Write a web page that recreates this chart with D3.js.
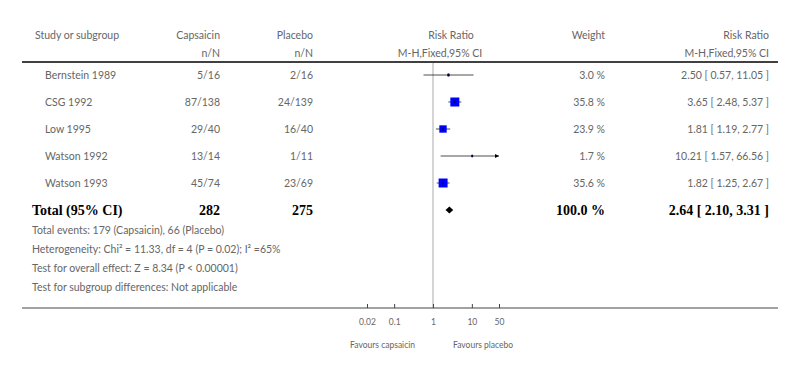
<!DOCTYPE html>
<html>
<head>
<meta charset="utf-8">
<script src="https://cdn.jsdelivr.net/npm/d3@7"></script>
<style>
  body { margin: 0; background: #fff; }
  svg { display: block; }
  text { font-family: Lato, "Open Sans", sans-serif; font-size: 10.5px; fill: #666; }
  .bold { font-family: "Liberation Serif", "DejaVu Serif", serif; font-weight: bold; font-size: 14px; fill: #000; }
</style>
</head>
<body>
<svg width="788" height="379"></svg>
<script>
(function(d3) {
    "use strict";

var studies = ["Bernstein 1989", "CSG 1992", "Low 1995", "Watson 1992", "Watson 1993"],
    capEvents = [5, 87, 29, 13, 45],
    capTotal = [16, 138, 40, 14, 74],
    plaEvents = [2, 24, 16, 1, 23],
    plaTotal = [16, 139, 40, 11, 69],
    rr = [2.50, 3.65, 1.81, 10.21, 1.82],
    ciLow = [0.57, 2.48, 1.19, 1.57, 1.25],
    ciHigh = [11.05, 5.37, 2.77, 66.56, 2.67],
    weights = [3.0, 35.8, 23.9, 1.7, 35.6],
    totalRow = ["Total (95% CI)", "282", "275", "100.0 %", "2.64 [ 2.10, 3.31 ]"],
    totalEst = [2.64, 2.10, 3.31],
    notes = [
        "Total events: 179 (Capsaicin), 66 (Placebo)",
        "Heterogeneity: Chi\u00b2 = 11.33, df = 4 (P = 0.02); I\u00b2 =65%",
        "Test for overall effect: Z = 8.34 (P < 0.00001)",
        "Test for subgroup differences: Not applicable"
    ],
    ticks = [0.02, 0.1, 1, 10, 50];

var svg = d3.select("svg"),
    x = d3.scaleLog().domain([0.02, 50]).range([367, 499]),
    y = d3.scaleLinear().domain([0, 5]).range([75, 210]),
    size = d3.scaleSqrt().domain([0, 35.8]).range([0, 9]),
    fmt = d3.format(".2f");

// header
function txt(px, py, s, anchor, cls) {
    return svg.append("text")
        .attr("x", px).attr("y", py).attr("dy", "0.35em")
        .attr("text-anchor", anchor || "start")
        .attr("class", cls || null)
        .text(s);
}
txt(35, 35, "Study or subgroup");
txt(220, 35, "Capsaicin", "end");
txt(220, 53, "n/N", "end");
txt(313, 35, "Placebo", "end");
txt(313, 53, "n/N", "end");
txt(451, 35, "Risk Ratio", "middle");
txt(440, 53, "M-H,Fixed,95% CI", "middle");
txt(605, 35, "Weight", "end");
txt(769, 35, "Risk Ratio", "end");
txt(769, 53, "M-H,Fixed,95% CI", "end");

svg.append("line")
    .attr("x1", 22).attr("x2", 778).attr("y1", 62).attr("y2", 62)
    .attr("stroke", "#000").attr("stroke-width", 1.6);

// reference line at 1
svg.append("line")
    .attr("x1", x(1)).attr("x2", x(1)).attr("y1", 63).attr("y2", 308)
    .attr("stroke", "#aaa").attr("stroke-width", 1);

// study rows
studies.forEach(function(s, i) {
    var yy = y(i);
    txt(45, yy, s);
    txt(220, yy, capEvents[i] + "/" + capTotal[i], "end");
    txt(313, yy, plaEvents[i] + "/" + plaTotal[i], "end");
    txt(605, yy, weights[i].toFixed(1) + " %", "end");
    txt(769, yy, fmt(rr[i]) + " [ " + fmt(ciLow[i]) + ", " + fmt(ciHigh[i]) + " ]", "end");

    var hiClip = Math.min(ciHigh[i], 50), loClip = Math.max(ciLow[i], 0.02);
    svg.append("line")
        .attr("x1", x(loClip)).attr("x2", x(hiClip))
        .attr("y1", yy).attr("y2", yy)
        .attr("stroke", "#222").attr("stroke-width", 0.8);
    if (ciHigh[i] > 50) {
        svg.append("path")
            .attr("d", "M" + x(50) + "," + yy + "l-4,-2l0,4z")
            .attr("fill", "#000");
    }
    var w = Math.max(size(weights[i]), 2);
    svg.append("rect")
        .attr("x", x(rr[i]) - w / 2).attr("y", yy - w / 2)
        .attr("width", w).attr("height", w)
        .attr("fill", "#0000ff");
    svg.append("line")
        .attr("x1", x(rr[i])).attr("x2", x(rr[i]))
        .attr("y1", yy - 1.5).attr("y2", yy + 1.5)
        .attr("stroke", "#000").attr("stroke-width", 0.8);
});

// total row
var ty = y(5);
txt(32, ty, totalRow[0], "start", "bold");
txt(220, ty, totalRow[1], "end", "bold");
txt(313, ty, totalRow[2], "end", "bold");
txt(605, ty, totalRow[3], "end", "bold");
txt(769, ty, totalRow[4], "end", "bold");

svg.append("path")
    .attr("d", "M" + x(totalEst[1]) + "," + ty +
               "L" + x(totalEst[0]) + "," + (ty - 3.5) +
               "L" + x(totalEst[2]) + "," + ty +
               "L" + x(totalEst[0]) + "," + (ty + 3.5) + "Z")
    .attr("fill", "#000");

// notes
notes.forEach(function(n, i) {
    txt(32, 230 + i * 19, n);
});

// axis
svg.append("line")
    .attr("x1", 22).attr("x2", 778).attr("y1", 308).attr("y2", 308)
    .attr("stroke", "#444").attr("stroke-width", 1);

var axis = svg.append("g")
    .attr("transform", "translate(0,308)")
    .call(d3.axisBottom(x)
        .tickValues(ticks)
        .tickFormat(d3.format("~g"))
        .tickSizeInner(-4)
        .tickSizeOuter(0)
        .tickPadding(11));
axis.select(".domain").remove();
axis.selectAll(".tick line").attr("stroke", "#444");
axis.selectAll(".tick text")
    .style("font-family", "Lato, sans-serif")
    .style("font-size", "8.5px")
    .attr("fill", "#666");

svg.append("text")
    .attr("x", x(1) - 18).attr("y", 345).attr("dy", "0.35em")
    .attr("text-anchor", "end").style("font-size", "8.5px")
    .text("Favours capsaicin");
svg.append("text")
    .attr("x", x(1) + 20).attr("y", 345).attr("dy", "0.35em")
    .style("font-size", "8.5px")
    .text("Favours placebo");

}(d3));
</script>
</body>
</html>
